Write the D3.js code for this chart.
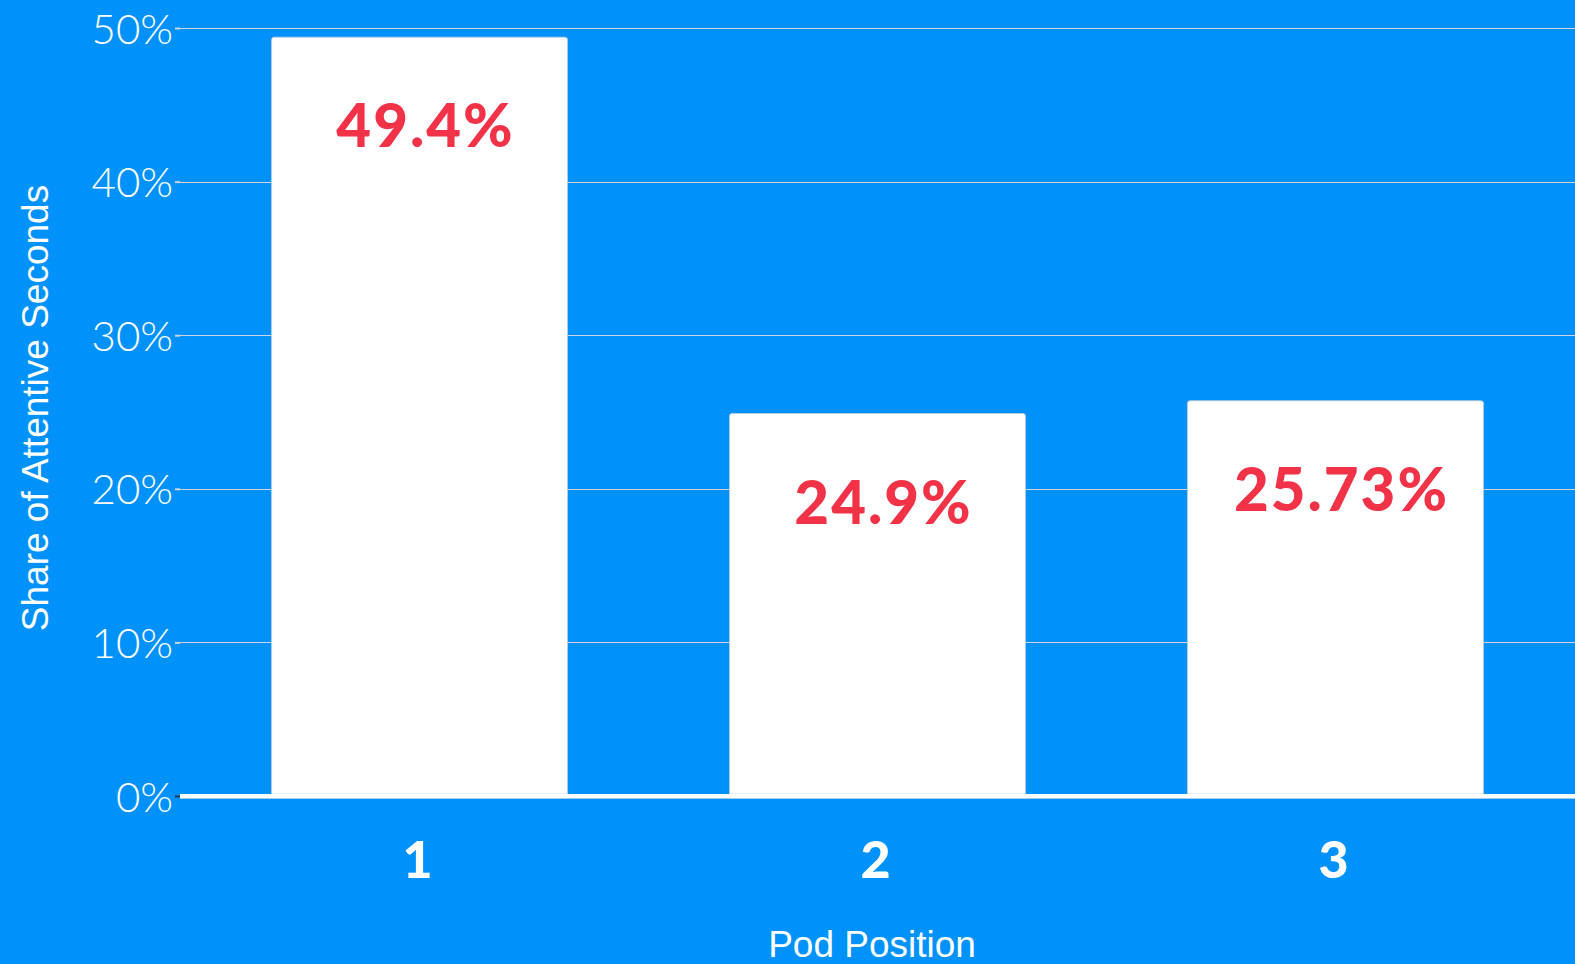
<!DOCTYPE html>
<html>
<head>
<meta charset="utf-8">
<script src="https://cdn.jsdelivr.net/npm/d3@7"></script>
<style>
  html, body { margin: 0; padding: 0; background: #0092fb; overflow: hidden; }
  svg { display: block; }
</style>
</head>
<body>
<svg id="chart" width="1575" height="964"></svg>
<script>
// Share of attentive seconds by ad pod position
const positions = ["1", "2", "3"];
const shares = [49.4, 24.9, 25.73];
const shareLabels = ["49.4%", "24.9%", "25.73%"];
const yTicks = [0, 10, 20, 30, 40, 50];
const yTickLabels = ["0%", "10%", "20%", "30%", "40%", "50%"];
const xTitle = "Pod Position";
const yTitle = "Share of Attentive Seconds";

const W = 1575, H = 964;
const plotLeft = 180, plotRight = 1575, plotTop = 28, plotBottom = 796;

const svg = d3.select("#chart");
svg.append("rect").attr("width", W).attr("height", H).attr("fill", "#0092fb");

const x = d3.scaleBand().domain(positions).range([plotLeft, plotRight])
  .paddingInner(0.354).paddingOuter(0.2);
const y = d3.scaleLinear().domain([0, 50]).range([plotBottom, plotTop]);

// horizontal gridlines
svg.append("g").selectAll("line").data(yTicks.filter(d => d > 0)).join("line")
  .attr("x1", plotLeft - 5).attr("x2", plotRight)
  .attr("y1", d => Math.round(y(d)) + 0.5).attr("y2", d => Math.round(y(d)) + 0.5)
  .attr("stroke", "#d0d4da").attr("stroke-width", 1.2);

// y axis labels
const yAxis = d3.axisLeft(y).tickValues(yTicks)
  .tickFormat((d, i) => yTickLabels[i]).tickSize(5).tickPadding(2);
const gy = svg.append("g").attr("transform", `translate(${plotLeft},0)`).call(yAxis);
gy.select(".domain").remove();
gy.selectAll(".tick line").attr("stroke", d => d === 0 ? "#1a3d63" : "#d0d4da").attr("stroke-width", 2);
gy.selectAll(".tick text")
  .attr("fill", "#ffffff")
  .attr("font-family", "Lato, 'Open Sans', sans-serif")
  .attr("font-weight", 300)
  .attr("font-size", 42)
  .attr("dy", "0.36em");

// bars
svg.append("g").selectAll("path").data(shares).join("path")
  .attr("d", (d, i) => {
    const x0 = x(positions[i]), w = x.bandwidth(), yt = y(d), yb = plotBottom - 2, r = 2.5;
    return `M${x0},${yb}V${yt + r}Q${x0},${yt} ${x0 + r},${yt}H${x0 + w - r}Q${x0 + w},${yt} ${x0 + w},${yt + r}V${yb}Z`;
  })
  .attr("fill", "#ffffff")
  .attr("stroke", "#c9ced6").attr("stroke-width", 0.8);

// baseline
svg.append("line")
  .attr("x1", plotLeft).attr("x2", plotRight)
  .attr("y1", plotBottom).attr("y2", plotBottom)
  .attr("stroke", "#ffffff").attr("stroke-width", 4);
svg.append("line")
  .attr("x1", plotLeft).attr("x2", plotRight)
  .attr("y1", plotBottom + 2.5).attr("y2", plotBottom + 2.5)
  .attr("stroke", "#a9c9ea").attr("stroke-width", 1);

// value labels inside bars
svg.append("g").selectAll("text").data(shares).join("text")
  .attr("x", (d, i) => x(positions[i]) + x.bandwidth() / 2 + 6)
  .attr("y", d => y(d) + 110)
  .attr("text-anchor", "middle")
  .attr("fill", "#f23347")
  .attr("font-family", "Lato, 'Open Sans', sans-serif")
  .attr("font-weight", 900)
  .attr("font-size", 60)
  .attr("letter-spacing", 2)
  .text((d, i) => shareLabels[i]);

// x category labels
svg.append("g").selectAll("text").data(positions).join("text")
  .attr("x", d => x(d) + x.bandwidth() / 2 - 2)
  .attr("y", 878)
  .attr("text-anchor", "middle")
  .attr("fill", "#ffffff")
  .attr("font-family", "Lato, 'Open Sans', sans-serif")
  .attr("font-weight", 900)
  .attr("font-size", 52)
  .text(d => d);

// axis titles
svg.append("text")
  .attr("x", 872).attr("y", 957)
  .attr("text-anchor", "middle")
  .attr("fill", "#ffffff")
  .attr("font-family", "'Liberation Sans', Arial, sans-serif")
  .attr("font-size", 37)
  .text(xTitle);

svg.append("text")
  .attr("transform", "translate(48,408) rotate(-90)")
  .attr("text-anchor", "middle")
  .attr("fill", "#ffffff")
  .attr("font-family", "'Liberation Sans', Arial, sans-serif")
  .attr("font-size", 37)
  .text(yTitle);
</script>
</body>
</html>
